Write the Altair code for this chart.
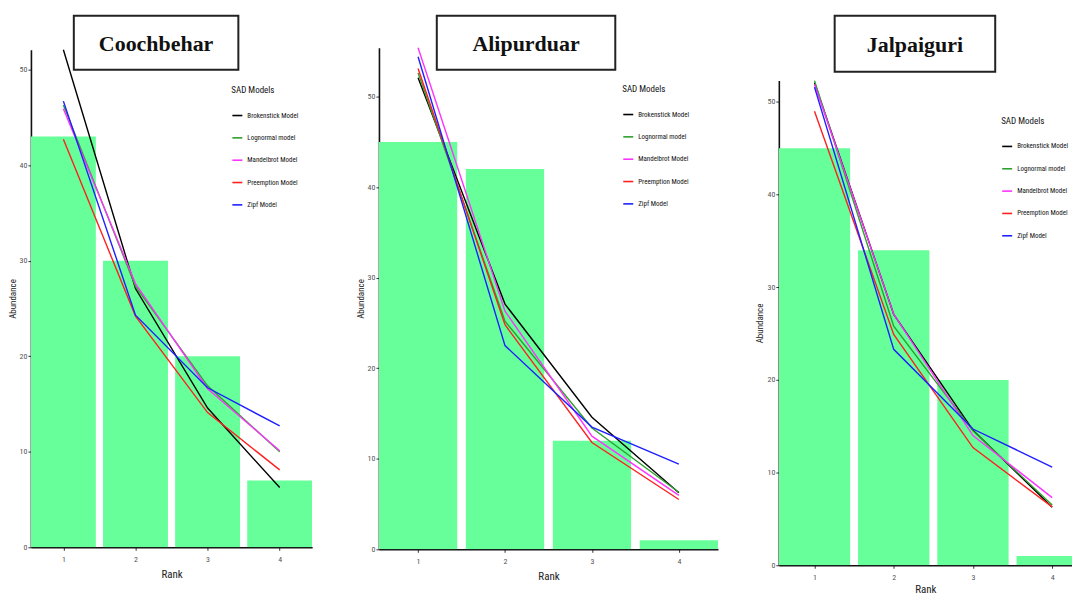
import altair as alt
import pandas as pd

ranks = [1, 2, 3, 4]
models = ["Brokenstick Model", "Lognormal model", "Mandelbrot Model",
          "Preemption Model", "Zipf Model"]
model_colors = ["#000000", "#2ca02c", "#ff33ff", "#ff2020", "#1f1fff"]
bar_color = "#66ff99"

# Coochbehar
cooch_obs = [43, 30, 20, 7]
cooch_brokenstick = [52.08, 27.08, 14.58, 6.25]
cooch_lognormal = [46.3, 27.3, 16.9, 10.0]
cooch_mandelbrot = [45.9, 27.6, 16.6, 10.1]
cooch_preemption = [42.7, 24.2, 14.1, 8.1]
cooch_zipf = [46.7, 24.3, 16.7, 12.7]

# Alipurduar
ali_obs = [45, 42, 12, 1]
ali_brokenstick = [52.08, 27.08, 14.58, 6.25]
ali_lognormal = [52.6, 25.2, 13.4, 6.3]
ali_mandelbrot = [55.4, 26.3, 12.5, 5.95]
ali_preemption = [53.1, 24.8, 11.8, 5.5]
ali_zipf = [54.4, 22.5, 13.5, 9.4]

# Jalpaiguri
jal_obs = [45, 34, 20, 1]
jal_brokenstick = [52.08, 27.08, 14.58, 6.25]
jal_lognormal = [52.3, 25.8, 14.5, 6.5]
jal_mandelbrot = [51.9, 27.1, 14.0, 7.3]
jal_preemption = [49.0, 24.9, 12.7, 6.3]
jal_zipf = [51.6, 23.3, 14.7, 10.6]

y_ticks = [0, 10, 20, 30, 40, 50]

SANS = "Liberation Sans Narrow, Roboto Condensed, Liberation Sans, Arial"
SERIF = "Liberation Serif, Times New Roman, serif"


def make_panel(name, obs, fits, width, height, y_top, xmax, box, legend_xy,
               x_title_pad=5, left_extent=None):
    bars_df = pd.DataFrame({"rank": ranks, "abundance": obs})
    rows = []
    for m, vals in zip(models, fits):
        for r, v in zip(ranks, vals):
            rows.append({"rank": r, "model": m, "value": v})
    lines_df = pd.DataFrame(rows)
    ymax = max(max(obs), max(max(v) for v in fits))

    xscale = alt.Scale(domain=[0.55, xmax], nice=False, zero=False)
    yscale = alt.Scale(domain=[0, ymax], nice=False, zero=True,
                       range=[height, y_top])

    bars = alt.Chart(bars_df).transform_calculate(
        x0="datum.rank - 0.45", x1="datum.rank + 0.45"
    ).mark_rect(color=bar_color, clip=True).encode(
        x=alt.X("x0:Q", scale=xscale,
                axis=alt.Axis(values=ranks, format="d", title="Rank",
                              titleFontSize=11, labelPadding=5,
                              titlePadding=x_title_pad)),
        x2="x1:Q",
        y=alt.Y("abundance:Q", scale=yscale,
                axis=alt.Axis(values=y_ticks, title="Abundance",
                              titleFontSize=9, labelPadding=1, titlePadding=2)),
        y2=alt.datum(0),
    )

    lines = alt.Chart(lines_df).mark_line(strokeWidth=1.4).encode(
        x="rank:Q",
        y="value:Q",
        color=alt.Color(
            "model:N",
            scale=alt.Scale(domain=models, range=model_colors),
            legend=alt.Legend(
                title="SAD Models", orient="none",
                legendX=legend_xy[0], legendY=legend_xy[1],
                symbolType="stroke", symbolStrokeWidth=1.6, symbolSize=100,
                titleFontSize=9, titleFont=SANS, titleFontWeight="normal",
                titleColor="#111", titlePadding=15,
                labelFontSize=7, labelFont=SANS, labelColor="#111",
                labelOffset=4, rowPadding=12.4, padding=0,
            ),
        ),
    )

    tdf = pd.DataFrame({"title": [name]})
    rect = alt.Chart(tdf).mark_rect(
        fill="white", stroke="#222", strokeWidth=2
    ).encode(
        x=alt.value(box[0]), x2=alt.value(box[1]),
        y=alt.value(box[2]), y2=alt.value(box[3]),
    )
    text = alt.Chart(tdf).mark_text(
        font=SERIF, fontSize=22, fontWeight="bold", color="#111",
        align="center", baseline="middle",
    ).encode(
        x=alt.value((box[0] + box[1]) / 2),
        y=alt.value((box[2] + box[3]) / 2 + 1),
        text="title:N",
    )
    layers = [bars, lines, rect, text]
    if left_extent is not None:
        # invisible spacer that sets the panel's left extent in the row
        spacer = alt.Chart(tdf).mark_rule(opacity=0).encode(
            x=alt.value(-left_extent), y=alt.value(100), y2=alt.value(101)
        )
        layers.append(spacer)

    return alt.layer(*layers).properties(width=width, height=height)


p1 = make_panel(
    "Coochbehar", cooch_obs,
    [cooch_brokenstick, cooch_lognormal, cooch_mandelbrot, cooch_preemption, cooch_zipf],
    282, 501, 2, 4.45, (43, 208, -32, 22), (201, 38),
)
p2 = make_panel(
    "Alipurduar", ali_obs,
    [ali_brokenstick, ali_lognormal, ali_mandelbrot, ali_preemption, ali_zipf],
    340, 503, 0, 4.45, (58, 237, -32, 22), (244, 37), left_extent=28.5,
)
p3 = make_panel(
    "Jalpaiguri", jal_obs,
    [jal_brokenstick, jal_lognormal, jal_mandelbrot, jal_preemption, jal_zipf],
    294, 519, 33, 4.25, (56, 217, -32, 24), (223, 69), x_title_pad=2,
)

chart = alt.hconcat(p1, p2, p3, spacing=38).resolve_scale(
    x="independent", y="independent", color="independent"
).resolve_legend(color="independent").properties(
    padding={"left": 0, "top": 6, "right": 0, "bottom": 0}
).configure_view(stroke=None).configure_axis(
    grid=False, domainColor="#111", domainWidth=1.6,
    tickColor="#333", tickSize=3, tickWidth=1,
    labelColor="#555", labelFont=SANS, labelFontSize=8,
    titleFont=SANS, titleFontWeight="normal", titleColor="#222",
)

chart.save("out.html", embed_options={"renderer": "svg", "actions": False})
